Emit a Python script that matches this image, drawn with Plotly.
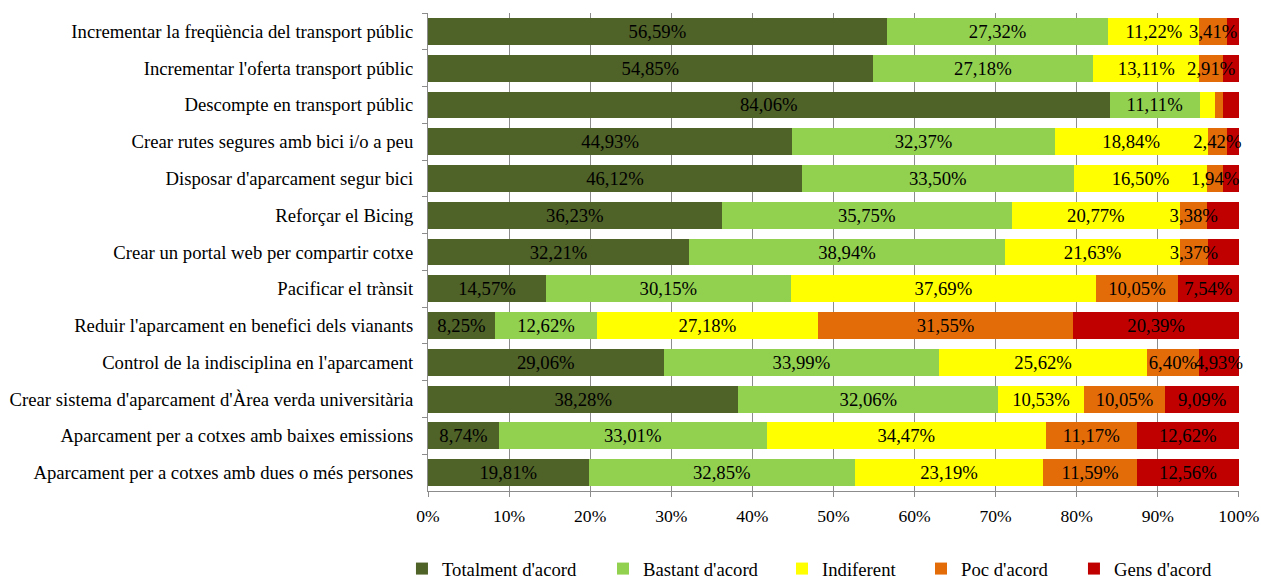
import plotly.graph_objects as go

categories = [
    "Incrementar la freqüència del transport públic",
    "Incrementar l'oferta transport públic",
    "Descompte en transport públic",
    "Crear rutes segures amb bici i/o a peu",
    "Disposar d'aparcament segur bici",
    "Reforçar el Bicing",
    "Crear un portal web per compartir cotxe",
    "Pacificar el trànsit",
    "Reduir l'aparcament en benefici dels vianants",
    "Control de la indisciplina en l'aparcament",
    "Crear sistema d'aparcament d'Àrea verda universitària",
    "Aparcament per a cotxes amb baixes emissions",
    "Aparcament per a cotxes amb dues o més persones",
]

totalment = [56.59, 54.85, 84.06, 44.93, 46.12, 36.23, 32.21, 14.57, 8.25, 29.06, 38.28, 8.74, 19.81]
bastant = [27.32, 27.18, 11.11, 32.37, 33.50, 35.75, 38.94, 30.15, 12.62, 33.99, 32.06, 33.01, 32.85]
indiferent = [11.22, 13.11, 1.93, 18.84, 16.50, 20.77, 21.63, 37.69, 27.18, 25.62, 10.53, 34.47, 23.19]
poc = [3.41, 2.91, 0.97, 2.42, 1.94, 3.38, 3.37, 10.05, 31.55, 6.40, 10.05, 11.17, 11.59]
gens = [1.46, 1.95, 1.93, 1.44, 1.94, 3.87, 3.88, 7.54, 20.39, 4.93, 9.09, 12.62, 12.56]

# which values carry a data label
show_tot = [True] * 13
show_bas = [True] * 13
show_ind = [True, True, False, True, True, True, True, True, True, True, True, True, True]
show_poc = [True, True, False, True, True, True, True, True, True, True, True, True, True]
show_gen = [False, False, False, False, False, False, False, True, True, True, True, True, True]

tick_vals = [0, 10, 20, 30, 40, 50, 60, 70, 80, 90, 100]
tick_text = ["0%", "10%", "20%", "30%", "40%", "50%", "60%", "70%", "80%", "90%", "100%"]

series = [
    ("Totalment d'acord", totalment, show_tot, "#4F6228"),
    ("Bastant d'acord", bastant, show_bas, "#92D050"),
    ("Indiferent", indiferent, show_ind, "#FFFF00"),
    ("Poc d'acord", poc, show_poc, "#E36C09"),
    ("Gens d'acord", gens, show_gen, "#C00000"),
]

# horizontal position of each legend entry (fraction of plot width)
legend_x = [-0.0321, 0.2158, 0.4365, 0.6079, 0.7965]

FONT = "Liberation Serif"
FS = 18.7
FS_X = 17.6
GRID = "#8C8C8C"

def fmt(v):
    return f"{v:.2f}".replace(".", ",") + "%"

fig = go.Figure()
legend_names = ["legend", "legend2", "legend3", "legend4", "legend5"]
# coloured bars
for (name, vals, show, color), lg in zip(series, legend_names):
    fig.add_trace(go.Bar(
        name=name,
        y=categories,
        x=vals,
        orientation="h",
        legend=lg,
        marker=dict(color=color, line=dict(width=0)),
        hoverinfo="x+y+name",
    ))
# transparent overlay bars carrying the data labels (drawn above every bar)
for name, vals, show, color in series:
    fig.add_trace(go.Bar(
        name=name,
        y=categories,
        x=vals,
        orientation="h",
        xaxis="x2",
        yaxis="y2",
        showlegend=False,
        hoverinfo="skip",
        marker=dict(color="rgba(0,0,0,0)", line=dict(width=0)),
        text=[fmt(v) if s else "" for v, s in zip(vals, show)],
        textposition="inside",
        insidetextanchor="middle",
        constraintext="none",
        textangle=0,
        textfont=dict(family=FONT, size=FS, color="black"),
        cliponaxis=False,
    ))

legend_common = dict(
    orientation="h",
    xanchor="left",
    y=-0.163, yanchor="middle",
    font=dict(family=FONT, size=FS, color="black"),
    itemwidth=30,
    bgcolor="rgba(0,0,0,0)",
)

xr = [0, 100.02]
fig.update_layout(
    barmode="stack",
    bargap=0.27,
    width=1261,
    height=579,
    margin=dict(l=428, r=22, t=13, b=88, autoexpand=False),
    paper_bgcolor="white",
    plot_bgcolor="white",
    font=dict(family=FONT, size=FS, color="black"),
    uniformtext=dict(mode="show", minsize=FS),
    showlegend=True,
    xaxis=dict(
        range=xr,
        tickvals=tick_vals,
        ticktext=tick_text,
        showgrid=True, gridcolor=GRID, gridwidth=1,
        showline=True, linecolor=GRID, linewidth=1,
        ticks="outside", ticklen=5, tickcolor=GRID,
        ticklabelstandoff=4,
        zeroline=False,
        tickfont=dict(family=FONT, size=FS_X),
    ),
    yaxis=dict(
        autorange="reversed",
        showline=True, linecolor=GRID, linewidth=1,
        ticks="outside", ticklen=5, tickcolor=GRID,
        tickson="boundaries",
        ticklabelstandoff=10,
        showgrid=False,
        tickfont=dict(family=FONT, size=FS),
    ),
    xaxis2=dict(range=xr, overlaying="x", visible=False, showgrid=False, zeroline=False),
    yaxis2=dict(overlaying="y", autorange="reversed", visible=False, showgrid=False),
)
for lg, lx in zip(legend_names, legend_x):
    fig.update_layout({lg: dict(legend_common, x=lx)})

fig.write_html(
    "out.html",
    config={"displayModeBar": False},
    post_script="document.body.style.margin='0';document.body.style.overflow='hidden';",
)
